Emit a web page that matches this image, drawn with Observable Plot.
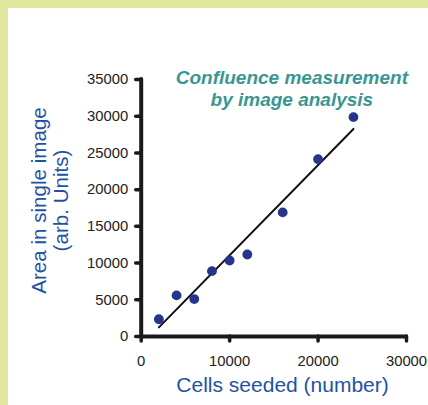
<!DOCTYPE html>
<html>
<head>
<meta charset="utf-8">
<script src="https://cdn.jsdelivr.net/npm/d3@7"></script>
<script src="https://cdn.jsdelivr.net/npm/@observablehq/plot@0.6"></script>
<style>
  html, body { margin: 0; padding: 0; }
  body { width: 428px; height: 405px; background: #dfe89c; position: relative; overflow: hidden; }
  #chart { position: absolute; left: 8px; top: 8px; width: 420px; height: 397px; background: #ffffff; }
  #chart svg { display: block; background: #ffffff; }
</style>
</head>
<body>
<div id="chart"></div>
<script>
// Data
const cellsSeeded = [2000, 4000, 6000, 8000, 10000, 12000, 16000, 20000, 24000];
const areaSingleImage = [2350, 5600, 5100, 8900, 10350, 11170, 16900, 24150, 29880];
const xTicks = [0, 10000, 20000, 30000];
const yTicks = [0, 5000, 10000, 15000, 20000, 25000, 30000, 35000];
const titleText = "Confluence measurement\nby image analysis";
const yLabelText = "Area in single image\n(arb. Units)";
const xLabelText = "Cells seeded (number)";

const table = cellsSeeded.map((c, i) => ({cells: c, area: areaSingleImage[i]}));

const font = "'Liberation Sans', Arial, Helvetica, sans-serif";
const axisColor = "#1a1a1a";

const chart = Plot.plot({
  width: 420,
  height: 397,
  marginLeft: 132.7,
  marginRight: 22,
  marginTop: 71,
  marginBottom: 69,
  style: {fontFamily: font, background: "#ffffff", overflow: "visible"},
  x: {domain: [0, 30000]},
  y: {domain: [0, 35000]},
  marks: [
    Plot.axisY({
      ticks: yTicks, tickSize: 5, tickPadding: 8, strokeWidth: 3.5, strokeLinecap: "round",
      stroke: axisColor, fill: "#222", fontSize: 14.8, tickFormat: d => String(d), label: null
    }),
    Plot.axisX({
      ticks: xTicks, tickSize: 5, tickPadding: 14, strokeWidth: 3.5, strokeLinecap: "round",
      stroke: axisColor, fill: "#222", fontSize: 14.8, tickFormat: d => String(d), label: null
    }),
    Plot.ruleX([0], {stroke: axisColor, strokeWidth: 4, strokeLinecap: "round"}),
    Plot.ruleY([0], {stroke: axisColor, strokeWidth: 4, strokeLinecap: "round"}),
    Plot.linearRegressionY(table, {x: "cells", y: "area", stroke: "#111", strokeWidth: 2, ci: 0}),
    Plot.dot(table, {x: "cells", y: "area", r: 4.9, fill: "#27348c", stroke: "none"}),
    Plot.text([titleText], {
      frameAnchor: "top", lineAnchor: "top", dx: 18, dy: -11.5, lineHeight: 1.16,
      fontSize: 19, fontWeight: "bold", fontStyle: "italic", fill: "#3a9693", textAnchor: "middle"
    }),
    Plot.text([yLabelText], {
      frameAnchor: "left", lineAnchor: "middle", rotate: -90, dx: -91.4, dy: -7.5, lineHeight: 1.1,
      fontSize: 20.6, fill: "#1f52a3", textAnchor: "middle"
    }),
    Plot.text([xLabelText], {
      frameAnchor: "bottom", lineAnchor: "top", dx: 8.7, dy: 41,
      fontSize: 21, fill: "#1f52a3", textAnchor: "middle"
    })
  ]
});
document.getElementById("chart").appendChild(chart);
</script>
</body>
</html>
